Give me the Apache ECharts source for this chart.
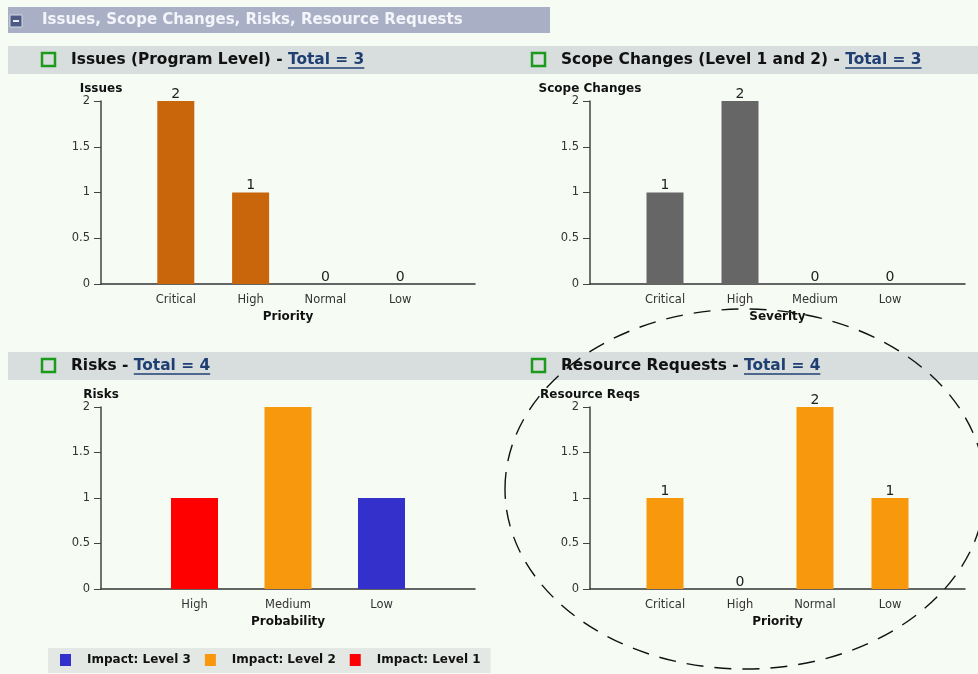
<!DOCTYPE html>
<html>
<head>
<meta charset="utf-8">
<script src="https://cdn.jsdelivr.net/npm/echarts@6/dist/echarts.min.js"></script>
<style>
  html, body { margin: 0; padding: 0; background: #f6fbf4; }
  #chart { width: 978px; height: 674px; }
</style>
</head>
<body>
<div id="chart"></div>
<script>
// values
const issueCats = ["Critical", "High", "Normal", "Low"];
const issueVals = [2, 1, 0, 0];
const scopeCats = ["Critical", "High", "Medium", "Low"];
const scopeVals = [1, 2, 0, 0];
const riskCats = ["High", "Medium", "Low"];
const riskVals = [1, 2, 1];
const riskImpact = [1, 2, 3]; // impact level of each probability bucket
const resCats = ["Critical", "High", "Normal", "Low"];
const resVals = [1, 0, 2, 1];
const yTicks = [0, 0.5, 1, 1.5, 2];
const impactLevels = [3, 2, 1]; // legend order

const FONT = "'DejaVu Sans', Verdana, sans-serif";
const impactColors = { 1: "#ff0000", 2: "#f8980c", 3: "#3430cc" };

const chart = echarts.init(document.getElementById("chart"));

// blank category on each side so the bars sit inside a longer axis line
const pad = (arr) => ["", ...arr, ""];
const padVals = (arr) => [null, ...arr, null];
const sum = (arr) => arr.reduce((a, b) => a + b, 0);

const measureCtx = document.createElement("canvas").getContext("2d");
function textWidth(str, font) {
  measureCtx.font = font;
  return measureCtx.measureText(str).width;
}

function xAxisFor(gridIndex, cats, name) {
  return {
    type: "category",
    gridIndex,
    data: pad(cats),
    boundaryGap: false,
    name,
    nameLocation: "middle",
    nameGap: 27,
    nameTextStyle: { fontFamily: FONT, fontWeight: "bold", fontSize: 12, color: "#111" },
    axisLine: { lineStyle: { color: "#333", width: 1.5 } },
    axisTick: { show: false },
    axisLabel: { interval: 0, margin: 10, fontFamily: FONT, fontSize: 11.5, color: "#333" },
  };
}

function yAxisFor(gridIndex, name) {
  return {
    type: "value",
    gridIndex,
    min: yTicks[0],
    max: yTicks[yTicks.length - 1],
    interval: yTicks[1] - yTicks[0],
    name,
    nameLocation: "end",
    nameGap: -3,
    nameTextStyle: { fontFamily: FONT, fontWeight: "bold", fontSize: 12, color: "#111" },
    axisLine: { show: true, lineStyle: { color: "#444", width: 1.5 } },
    axisTick: { show: true, length: 7, lineStyle: { color: "#444" } },
    axisLabel: { margin: 11, fontFamily: FONT, fontSize: 11.5, color: "#333" },
    splitLine: { show: false },
  };
}

const valueLabel = {
  show: true,
  position: "top",
  distance: 0,
  fontFamily: FONT,
  fontSize: 14,
  color: "#222",
};

// panel header band pieces: green box, bold title, underlined total link
function panelHeader(iconX, y, title, total) {
  const size = 15.4;
  const font = "bold " + size + "px " + FONT;
  const lead = title + " - ";
  const link = "Total = " + total;
  const textX = iconX + 29;
  const w1 = textWidth(lead, font);
  const w2 = textWidth(link, font);
  return [
    {
      type: "rect",
      shape: { x: iconX, y: y - 7, width: 13, height: 13 },
      style: { fill: "none", stroke: "#1c9a1c", lineWidth: 2.5 },
    },
    {
      type: "text",
      x: textX,
      y: y,
      style: {
        text: "{a|" + lead + "}{b|" + link + "}",
        verticalAlign: "middle",
        rich: {
          a: { fontFamily: FONT, fontWeight: "bold", fontSize: size, fill: "#111" },
          b: { fontFamily: FONT, fontWeight: "bold", fontSize: size, fill: "#1f3f73" },
        },
      },
    },
    {
      type: "line",
      shape: { x1: textX + w1, y1: y + 8, x2: textX + w1 + w2, y2: y + 8 },
      style: { stroke: "#1f3f73", lineWidth: 1.3 },
    },
  ];
}

const riskSeries = impactLevels.map((lvl) => ({
  name: "Impact: Level " + lvl,
  type: "bar",
  xAxisIndex: 2,
  yAxisIndex: 2,
  stack: "risk",
  barWidth: 47,
  itemStyle: { color: impactColors[lvl] },
  data: padVals(riskVals.map((v, i) => (riskImpact[i] === lvl ? v : "-"))),
}));

const option = {
  backgroundColor: "#f6fbf4",
  animation: false,
  grid: [
    { left: 101, top: 101, width: 374, height: 183 },
    { left: 590, top: 101, width: 375, height: 183 },
    { left: 101, top: 407, width: 374, height: 182 },
    { left: 590, top: 407, width: 375, height: 182 },
  ],
  xAxis: [
    xAxisFor(0, issueCats, "Priority"),
    xAxisFor(1, scopeCats, "Severity"),
    xAxisFor(2, riskCats, "Probability"),
    xAxisFor(3, resCats, "Priority"),
  ],
  yAxis: [
    yAxisFor(0, "Issues"),
    yAxisFor(1, "Scope Changes"),
    yAxisFor(2, "Risks"),
    yAxisFor(3, "Resource Reqs"),
  ],
  legend: {
    data: impactLevels.map((lvl) => "Impact: Level " + lvl),
    left: 48,
    top: 648,
    icon: "rect",
    itemWidth: 11,
    itemHeight: 12,
    itemGap: 14,
    selectedMode: false,
    backgroundColor: "#e4e8e4",
    padding: [6, 10, 7, 12],
    textStyle: {
      fontFamily: FONT,
      fontWeight: "bold",
      fontSize: 12,
      color: "#111",
      padding: [0, 0, 0, 11],
    },
  },
  series: [
    {
      name: "Issues",
      type: "bar",
      xAxisIndex: 0,
      yAxisIndex: 0,
      barWidth: 37,
      itemStyle: { color: "#c9650a" },
      label: valueLabel,
      data: padVals(issueVals),
    },
    {
      name: "Scope Changes",
      type: "bar",
      xAxisIndex: 1,
      yAxisIndex: 1,
      barWidth: 37,
      itemStyle: { color: "#666666" },
      label: valueLabel,
      data: padVals(scopeVals),
    },
    ...riskSeries,
    {
      name: "Resource Reqs",
      type: "bar",
      xAxisIndex: 3,
      yAxisIndex: 3,
      barWidth: 37,
      itemStyle: { color: "#f8980c" },
      label: valueLabel,
      data: padVals(resVals),
    },
  ],
  graphic: [
    // section title bar
    { type: "rect", z: -10, shape: { x: 8, y: 7, width: 542, height: 26 }, style: { fill: "#a9b0c6" } },
    { type: "rect", z: -9, shape: { x: 10, y: 15, width: 12, height: 12 }, style: { fill: "#4d5a86", stroke: "#d4d8e4", lineWidth: 1 } },
    { type: "line", z: -8, shape: { x1: 13, y1: 21, x2: 19, y2: 21 }, style: { stroke: "#e8ebf4", lineWidth: 2 } },
    {
      type: "text", z: -8, x: 42, y: 20,
      style: { text: "Issues, Scope Changes, Risks, Resource Requests", fontFamily: FONT, fontWeight: "bold", fontSize: 15, fill: "#f4f5fa", verticalAlign: "middle" },
    },
    // panel header bands
    { type: "rect", z: -10, shape: { x: 8, y: 46, width: 970, height: 28 }, style: { fill: "#d8dddd" } },
    { type: "rect", z: -10, shape: { x: 8, y: 352, width: 970, height: 28 }, style: { fill: "#d8dddd" } },
    ...panelHeader(42, 60, "Issues (Program Level)", sum(issueVals)),
    ...panelHeader(532, 60, "Scope Changes (Level 1 and 2)", sum(scopeVals)),
    ...panelHeader(42, 366, "Risks", sum(riskVals)),
    ...panelHeader(532, 366, "Resource Requests", sum(resVals)),
    // hand-drawn dashed ellipse around the resource requests chart
    {
      type: "ellipse",
      z: 100,
      shape: { cx: 745, cy: 489, rx: 240, ry: 180 },
      style: { fill: "none", stroke: "#111", lineWidth: 1.4, lineDash: [17, 11] },
    },
  ],
};

chart.setOption(option);
</script>
</body>
</html>
